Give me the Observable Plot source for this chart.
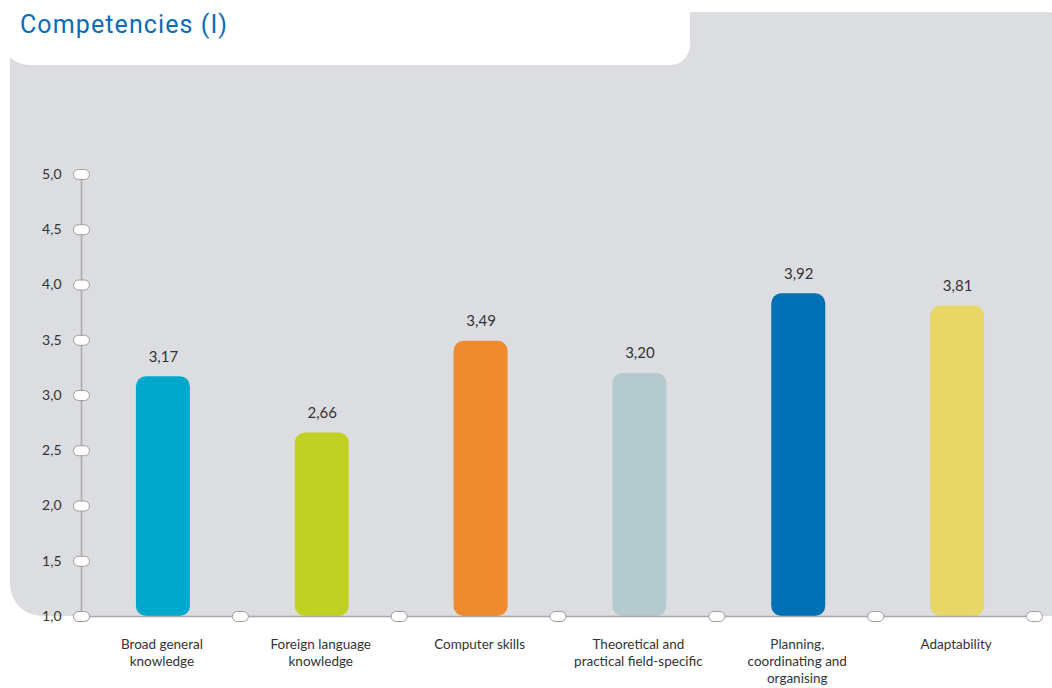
<!DOCTYPE html>
<html>
<head>
<meta charset="utf-8">
<script src="https://cdn.jsdelivr.net/npm/d3@7"></script>
<script src="https://cdn.jsdelivr.net/npm/@observablehq/plot@0.6"></script>
<style>
  html, body { margin: 0; padding: 0; background: #ffffff; }
  #wrap { position: relative; width: 1052px; height: 688px; overflow: hidden; }
  .panel { position: absolute; left: 10px; top: 12px; width: 1052px; height: 604px;
           background: #dcdde0; border-top-right-radius: 14px; border-bottom-left-radius: 32px; }
  .tab { position: absolute; left: 0px; top: 0px; width: 690px; height: 65px; background: #ffffff;
         border-bottom-left-radius: 30px; border-bottom-right-radius: 20px; }
  .title { position: absolute; left: 20px; top: 10px; font-family: Roboto, "DejaVu Sans", sans-serif;
           font-size: 25px; color: #0a6cb7; letter-spacing: 1.1px; }
  #chart { position: absolute; left: 0; top: 0; }
</style>
</head>
<body>
<div id="wrap">
  <div class="panel"></div>
  <div class="tab"></div>
  <div class="title">Competencies (I)</div>
  <div id="chart"></div>
</div>
<script>
const categories = [
  "Broad general knowledge",
  "Foreign language knowledge",
  "Computer skills",
  "Theoretical and practical field-specific",
  "Planning, coordinating and organising",
  "Adaptability"
];
const categoryLabels = [
  "Broad general\nknowledge",
  "Foreign language\nknowledge",
  "Computer skills",
  "Theoretical and\npractical field-specific",
  "Planning,\ncoordinating and\norganising",
  "Adaptability"
];
const values = [3.17, 2.66, 3.49, 3.20, 3.92, 3.81];
const barColors = ["#00a8cc", "#c1d124", "#ef8a2e", "#b5cacf", "#0070b5", "#e8d766"];
const yTicks = [1.0, 1.5, 2.0, 2.5, 3.0, 3.5, 4.0, 4.5, 5.0];

const data = categories.map((c, i) => ({category: c, value: values[i]}));
const fmt = v => d3.format(".1f")(v).replace(".", ",");
const fmt2 = v => d3.format(".2f")(v).replace(".", ",");

const W = 1052, H = 688, mL = 81, mR = 18, mT = 174, mB = 72;
const bw = (W - mL - mR) / categories.length;
const barW = 54;
const barShift = 2.5;

const pill = {
  draw(ctx, size) {
    const ry = 5, a = 3;
    ctx.moveTo(-a, -ry);
    ctx.lineTo(a, -ry);
    ctx.arc(a, 0, ry, -Math.PI / 2, Math.PI / 2);
    ctx.lineTo(-a, ry);
    ctx.arc(-a, 0, ry, Math.PI / 2, 3 * Math.PI / 2);
    ctx.closePath();
  }
};

const lineColor = "#a9a9a9";
const ovalStroke = "#9c9c9c";
const textColor = "#333333";

const chart = Plot.plot({
  width: W,
  height: H,
  marginLeft: mL,
  marginRight: mR,
  marginTop: mT,
  marginBottom: mB,
  style: {background: "transparent", fontFamily: "Lato, 'Open Sans', sans-serif", fontSize: "14px", color: textColor},
  x: {domain: categories, padding: 0, round: false, axis: null},
  y: {domain: [1, 5], axis: null},
  color: {type: "identity"},
  marks: [
    Plot.barY(data, {
      x: "category", y1: 1, y2: "value",
      fill: d => barColors[categories.indexOf(d.category)],
      insetLeft: (bw - barW) / 2 + barShift, insetRight: (bw - barW) / 2 - barShift,
      rx: 10
    }),
    Plot.ruleX([categories[0]], {y1: 1, y2: 5, dx: -bw / 2, stroke: lineColor, strokeWidth: 1.5}),
    Plot.ruleY([1], {stroke: lineColor, strokeWidth: 1.5}),
    Plot.axisY({ticks: yTicks, tickSize: 0, tickPadding: 20, tickFormat: fmt, label: null, fontSize: 14, fill: textColor}),
    Plot.dot(yTicks, {x: () => categories[0], y: d => d, dx: -bw / 2, symbol: pill, r: 5, fill: "white", stroke: ovalStroke, strokeWidth: 1}),
    Plot.dot(categories, {x: d => d, y: () => 1, dx: -bw / 2, symbol: pill, r: 5, fill: "white", stroke: ovalStroke, strokeWidth: 1}),
    Plot.dot([categories[categories.length - 1]], {x: d => d, y: () => 1, dx: bw / 2, symbol: pill, r: 5, fill: "white", stroke: ovalStroke, strokeWidth: 1}),
    Plot.text(data, {x: "category", y: "value", text: d => fmt2(d.value), dx: barShift, dy: -20, fontSize: 15, fill: textColor}),
    Plot.text(data, {x: "category", y: () => 1, text: d => categoryLabels[categories.indexOf(d.category)],
      lineAnchor: "top", dx: 1, dy: 21, lineHeight: 1.25, fontSize: 13.5, fill: textColor})
  ]
});
document.getElementById("chart").appendChild(chart);
</script>
</body>
</html>
